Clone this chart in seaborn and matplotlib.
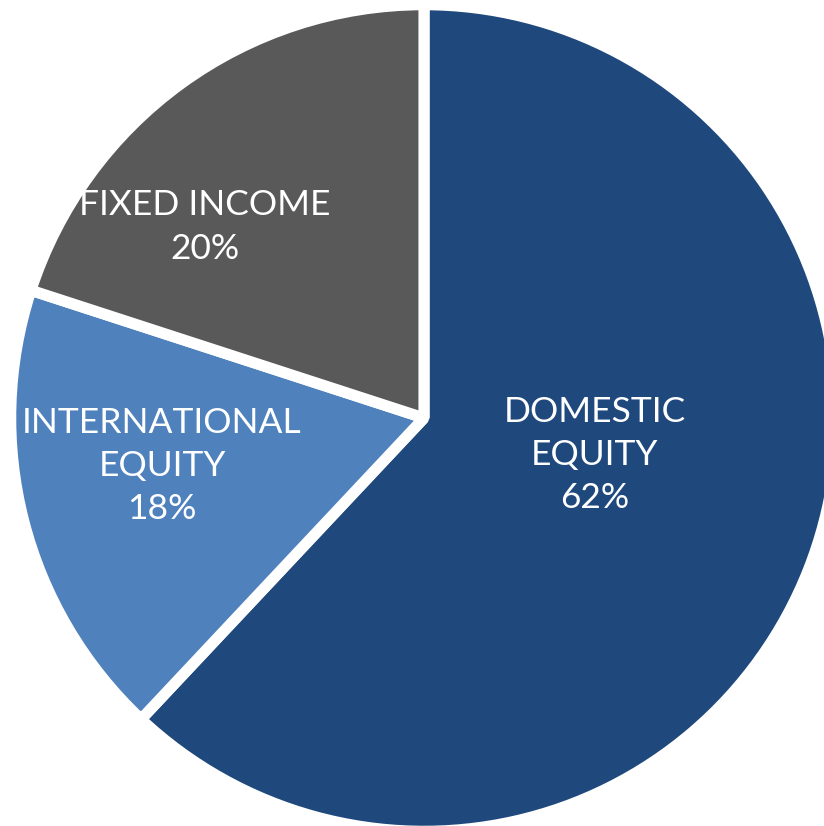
import seaborn as sns
import matplotlib.pyplot as plt

# allocation data
categories = ["DOMESTIC\nEQUITY", "INTERNATIONAL\nEQUITY", "FIXED INCOME"]
shares = [62, 18, 20]
colors = ["#1F497D", "#4F81BD", "#595959"]

sns.set_theme(style="white")
plt.rcParams['font.family'] = ['Lato', 'DejaVu Sans']

fig = plt.figure(figsize=(8.24, 8.26), dpi=100)
ax = fig.add_axes([0, 0, 1, 1])

wedges, _ = ax.pie(shares, colors=colors, startangle=90, counterclock=False,
                   radius=1.013,
                   wedgeprops=dict(edgecolor="white", linewidth=8, joinstyle="bevel"))

ax.set_xlim(-424 / 408, 400 / 408)
ax.set_ylim(-408 / 408, 418 / 408)
ax.set_aspect("equal")
ax.axis("off")

# label spots (axes fraction)
spots = [(595 / 824, 1 - 455 / 826), (162 / 824, 1 - 466 / 826), (205 / 824, 1 - 227 / 826)]
for lab, val, (x, y) in zip(categories, shares, spots):
    ax.text(x, y, f"{lab}\n{val}%", transform=ax.transAxes, ha="center", va="center",
            color="white", fontsize=25.5, linespacing=1.43)

fig.savefig("out.png", dpi=100)
